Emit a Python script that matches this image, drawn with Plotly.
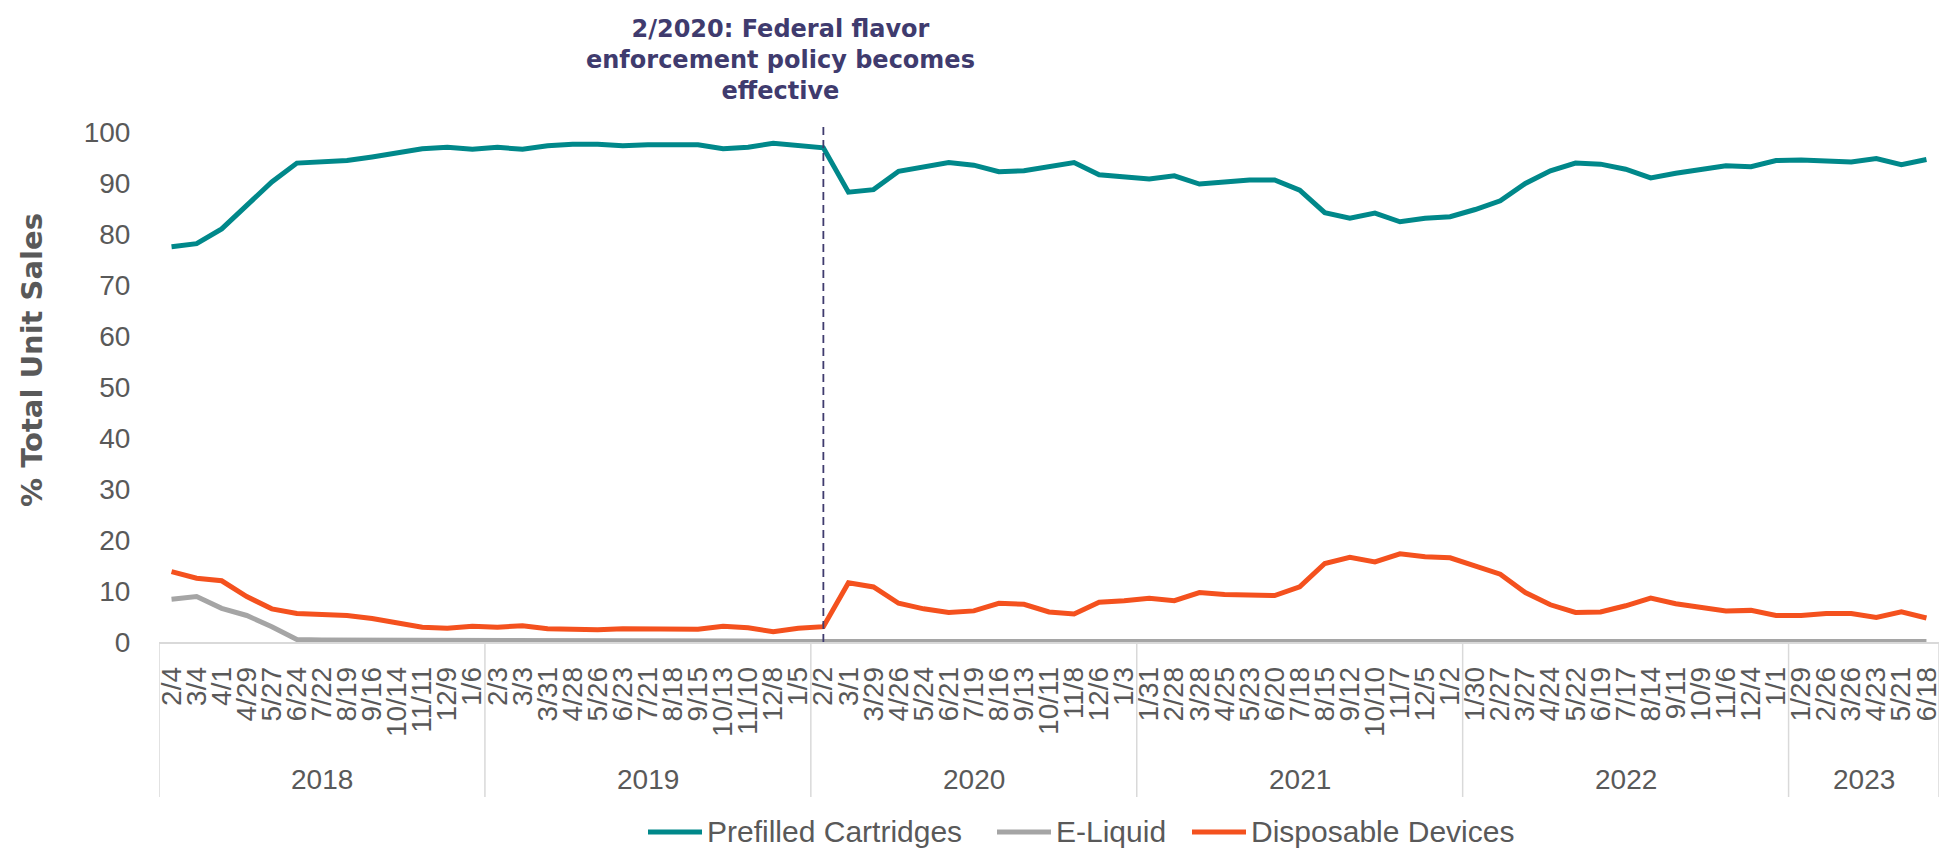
import plotly.graph_objs as go

# 4-week periods, grouped by year as in the original category axis
years = ['2018', '2019', '2020', '2021', '2022', '2023']
periods = [
    ['2/4', '3/4', '4/1', '4/29', '5/27', '6/24', '7/22', '8/19', '9/16', '10/14', '11/11', '12/9', '1/6'],
    ['2/3', '3/3', '3/31', '4/28', '5/26', '6/23', '7/21', '8/18', '9/15', '10/13', '11/10', '12/8', '1/5'],
    ['2/2', '3/1', '3/29', '4/26', '5/24', '6/21', '7/19', '8/16', '9/13', '10/11', '11/8', '12/6', '1/3'],
    ['1/31', '2/28', '3/28', '4/25', '5/23', '6/20', '7/18', '8/15', '9/12', '10/10', '11/7', '12/5', '1/2'],
    ['1/30', '2/27', '3/27', '4/24', '5/22', '6/19', '7/17', '8/14', '9/11', '10/9', '11/6', '12/4', '1/1'],
    ['1/29', '2/26', '3/26', '4/23', '5/21', '6/18'],
]

prefilled = [77.5, 78.1, 81.0, 85.6, 90.2, 93.9, 94.2, 94.4, 95.1, 95.9, 96.7, 97.0, 96.6,
             97.0, 96.6, 97.3, 97.6, 97.6, 97.3, 97.5, 97.6, 97.5, 96.7, 97.0, 97.8, 97.3,
             96.9, 88.2, 88.7, 92.3, 93.1, 94.0, 93.5, 92.2, 92.4, 93.3, 94.0, 91.6, 91.2,
             90.8, 91.4, 89.8, 90.2, 90.6, 90.6, 88.6, 84.2, 83.1, 84.1, 82.4, 83.1, 83.4,
             84.8, 86.5, 89.9, 92.4, 93.9, 93.7, 92.7, 91.0, 91.9, 92.7, 93.4, 93.2, 94.4,
             94.5, 94.2, 94.1, 94.8, 93.6, 94.6]
e_liquid = [8.4, 8.9, 6.6, 5.2, 3.0, 0.5, 0.4, 0.4, 0.3, 0.3, 0.3, 0.3, 0.3,
            0.2, 0.2, 0.2, 0.2, 0.2, 0.2, 0.2, 0.2, 0.2, 0.2, 0.2, 0.1, 0.1,
            0.1, 0.1, 0.1, 0.1, 0.1, 0.1, 0.1, 0.1, 0.1, 0.1, 0.1, 0.1, 0.1,
            0.1, 0.1, 0.1, 0.1, 0.1, 0.1, 0.1, 0.1, 0.1, 0.1, 0.1, 0.1, 0.1,
            0.1, 0.1, 0.1, 0.1, 0.1, 0.1, 0.1, 0.1, 0.1, 0.1, 0.1, 0.1, 0.1,
            0.1, 0.1, 0.1, 0.1, 0.1, 0.1]
disposable = [13.8, 12.5, 12.0, 8.9, 6.5, 5.6, 5.4, 5.2, 4.6, 3.8, 2.9, 2.7, 3.1,
              2.9, 3.2, 2.6, 2.4, 2.4, 2.6, 2.5, 2.4, 2.5, 3.1, 2.8, 2.0, 2.7,
              3.0, 11.6, 10.8, 7.6, 6.5, 5.8, 6.1, 7.6, 7.4, 5.9, 5.5, 7.8, 8.1,
              8.6, 8.1, 9.7, 9.3, 9.1, 9.1, 10.8, 15.4, 16.6, 15.7, 17.3, 16.7, 16.5,
              15.0, 13.3, 9.7, 7.3, 5.8, 5.9, 7.1, 8.6, 7.5, 6.9, 6.1, 6.2, 5.2,
              5.2, 5.6, 5.6, 4.8, 5.9, 4.7]

series_names = ['Prefilled Cartridges', 'E-Liquid', 'Disposable Devices']
series_colors = ['#00888A', '#A5A5A5', '#F4511E']

policy_label = '2/2'
policy_year = '2020'
policy_text = '2/2020: Federal flavor<br>enforcement policy becomes<br>effective'

labels = [p for grp in periods for p in grp]
x = list(range(len(labels)))

W, H = 1941, 851
L, R, T, B = 159, 2, 132, 209
PW, PH = W - L - R, H - T - B


def paper_x(px):
    return (px - L) / PW


def paper_y(py):
    return (H - B - py) / PH


GREY = '#595959'
NAVY = '#3F3B6E'
FONT = 'Liberation Sans, Arial, sans-serif'
BOLD = 'DejaVu Sans, Verdana, sans-serif'

fig = go.Figure()
for name, vals, col in zip(series_names, [prefilled, e_liquid, disposable], series_colors):
    fig.add_trace(go.Scatter(x=x, y=vals, mode='lines', name=name,
                             line=dict(color=col, width=5)))

# year groups under the period labels
bounds = [-0.5]
for grp in periods:
    bounds.append(bounds[-1] + len(grp))
for b in bounds:
    fig.add_shape(type='line', xref='x', yref='paper', x0=b, x1=b, y0=0, y1=paper_y(797),
                  line=dict(color='#D9D9D9', width=1.5))
for i, yr in enumerate(years):
    fig.add_annotation(x=(bounds[i] + bounds[i + 1]) / 2, y=paper_y(779), xref='x', yref='paper',
                       text=yr, showarrow=False, yanchor='middle',
                       font=dict(family=FONT, size=28, color=GREY))

# policy marker
gi = years.index(policy_year)
px = sum(len(g) for g in periods[:gi]) + periods[gi].index(policy_label)
fig.add_shape(type='line', xref='x', yref='paper', x0=px, x1=px, y0=0, y1=paper_y(124),
              line=dict(color=NAVY, width=1.8, dash='8px,5px'))
fig.add_annotation(x=px - 1.7, y=paper_y(60), xref='x', yref='paper', text=policy_text,
                   showarrow=False, yanchor='middle', align='center',
                   font=dict(family=BOLD, size=24, color=NAVY, weight='bold'))

# y axis title
fig.add_annotation(x=paper_x(32), y=paper_y(360), xref='paper', yref='paper',
                   text='% Total Unit Sales', showarrow=False, textangle=-90,
                   xanchor='center', yanchor='middle',
                   font=dict(family=BOLD, size=29, color=GREY, weight='bold'))

# legend, laid out like the original (long keys, wide gaps)
legend_x = [648, 997, 1192]
for name, col, lx in zip(series_names, series_colors, legend_x):
    fig.add_shape(type='line', xref='paper', yref='paper', x0=paper_x(lx), x1=paper_x(lx + 54),
                  y0=paper_y(832), y1=paper_y(832), line=dict(color=col, width=5))
    fig.add_annotation(x=paper_x(lx + 57), y=paper_y(831), xref='paper', yref='paper',
                       text=name, showarrow=False, xanchor='left', yanchor='middle',
                       font=dict(family=FONT, size=30, color=GREY))

fig.update_layout(
    width=W, height=H,
    margin=dict(l=L, r=R, t=T, b=B, autoexpand=False),
    plot_bgcolor='white', paper_bgcolor='white',
    font=dict(family=FONT, size=28, color=GREY),
    showlegend=False,
    xaxis=dict(range=[-0.5, len(labels) - 0.5], tickmode='array', tickvals=x, ticktext=labels,
               tickangle=-90, showgrid=False, zeroline=False, showline=True, automargin=False,
               linecolor='#D9D9D9', linewidth=1.5, ticks='outside', ticklen=12,
               ticklabeloverflow='allow',
               tickcolor='rgba(0,0,0,0)', tickfont=dict(family=FONT, size=28, color=GREY)),
    yaxis=dict(range=[0, 100], dtick=10, showgrid=False, zeroline=False, showline=False,
               automargin=False, ticks='outside', ticklen=22, tickcolor='rgba(0,0,0,0)',
               tickfont=dict(family=FONT, size=28, color=GREY)),
)

fig.write_html('out.html', config={'displayModeBar': False})

# the page's default body margin would shift the whole chart by 8px
with open('out.html', encoding='utf-8') as f:
    page = f.read()
page = page.replace('<body>', '<body style="margin:0;overflow:hidden;">', 1)
with open('out.html', 'w', encoding='utf-8') as f:
    f.write(page)
